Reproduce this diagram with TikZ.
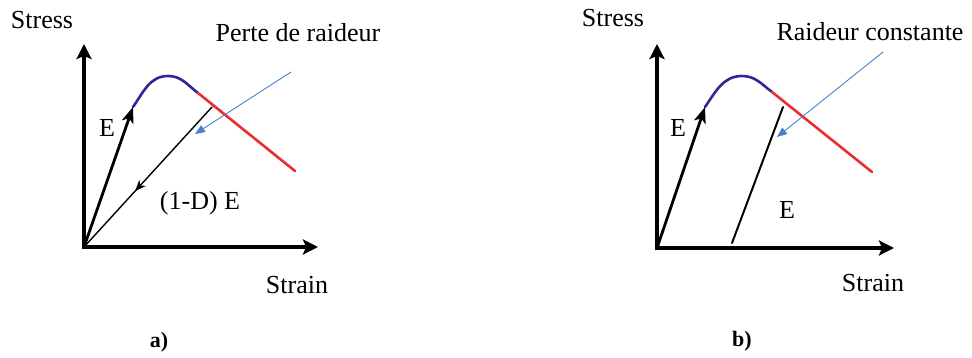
\documentclass[tikz,border=0pt]{standalone}
\usepackage{fontspec}
\setmainfont{Liberation Serif}
\usetikzlibrary{arrows.meta,decorations.markings}
\definecolor{curveblue}{RGB}{45,40,150}
\definecolor{curvered}{RGB}{235,45,45}
\definecolor{pointer}{RGB}{70,130,200}

\begin{document}
\begin{tikzpicture}[line cap=round,line join=round,x=1pt,y=-1pt,
  lbl/.style={font=\fontsize{26}{30}\selectfont,inner sep=0pt},
  axis/.style={line width=4.4pt,line cap=butt,-{Stealth[length=15pt,width=15pt,inset=3pt]}},
  modulus/.style={line width=2.8pt,-{Stealth[length=16pt,width=12pt,inset=4pt]}},
  unload/.style={line width=1.4pt},
  pointarrow/.style={pointer,line width=0.9pt,-{Triangle[length=10pt,width=8pt]}}]
\useasboundingbox (0,0) rectangle (972,358);
% panel a
\coordinate (Oa) at (84,247);
\coordinate (Ya) at (84,44);
\coordinate (Xa) at (318,247);
\coordinate (Ea) at (133,107);
\coordinate (Pa) at (168,76);
\coordinate (Ba) at (198,93);
\coordinate (Ra) at (295,171);
\coordinate (Ua) at (212,107);
\coordinate (Sa) at (291,72);
\coordinate (Ta) at (195,134);
\draw [axis] ([yshift=-2pt]Oa) -- (Ya);
\draw [axis] ([xshift=-2pt]Oa) -- (Xa);
\draw [modulus] (Oa) -- (Ea);
\draw [curveblue,line width=2.6pt] (Ea) to[out=55,in=180] (Pa) to[out=0,in=143] (Ba);
\draw [curvered,line width=2.6pt] (Ba) -- (Ra);
\draw [unload,postaction={decorate},decoration={markings,mark=at position 0.6 with {\arrow{Stealth[length=11pt,width=9pt]}}}] (Ua) -- (Oa);
\draw [pointarrow] (Sa) -- (Ta);
\node [lbl] (stressa) at (42,20) {Stress};
\node [lbl] (pertea) at (298,33) {Perte de raideur};
\node [lbl] (ea) at (107,128) {E};
\node [lbl] (dea) at (200,203) {(1-D) E};
\node [lbl] (straina) at (297,285) {Strain};
\node [lbl,font=\fontsize{22}{26}\selectfont\bfseries] (capa) at (159,342) {a)};
% panel b
\coordinate (Ob) at (657,248);
\coordinate (Yb) at (657,44);
\coordinate (Xb) at (894,248);
\coordinate (Eb) at (705,107);
\coordinate (Pb) at (742,76);
\coordinate (Bb) at (772,92);
\coordinate (Rb) at (872,172);
\coordinate (Lb) at (732,243);
\coordinate (Ub) at (783,107);
\coordinate (Sb) at (883,52);
\coordinate (Tb) at (777,137);
\draw [axis] ([yshift=-2pt]Ob) -- (Yb);
\draw [axis] ([xshift=-2pt]Ob) -- (Xb);
\draw [modulus] (Ob) -- (Eb);
\draw [curveblue,line width=2.6pt] (Eb) to[out=55,in=180] (Pb) to[out=0,in=143] (Bb);
\draw [curvered,line width=2.6pt] (Bb) -- (Rb);
\draw [unload,line width=2pt] (Lb) -- (Ub);
\draw [pointarrow] (Sb) -- (Tb);
\node [lbl] (stressb) at (613,18) {Stress};
\node [lbl] (raideurb) at (870,32) {Raideur constante};
\node [lbl] (eb) at (678,128) {E};
\node [lbl] (e2b) at (787,210) {E};
\node [lbl] (strainb) at (873,283) {Strain};
\node [lbl,font=\fontsize{22}{26}\selectfont\bfseries] (capb) at (742,341) {b)};
\end{tikzpicture}
\end{document}
